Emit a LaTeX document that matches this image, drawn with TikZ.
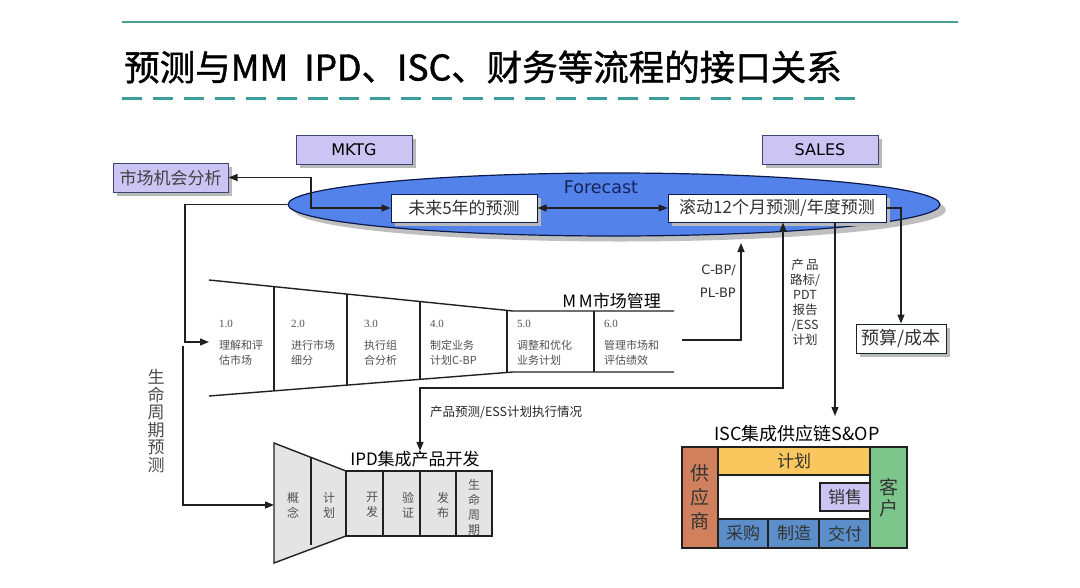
\documentclass[tikz,border=0pt]{standalone}
\usepackage{fontspec}
\setmainfont{DejaVu Sans}
\newfontfamily\cjk{Noto Sans CJK SC}
\newfontfamily\cjkt[FakeBold=1.2]{Noto Sans CJK SC}
\newfontfamily\verd{DejaVu Sans}
\newfontfamily\serf{Liberation Serif}
\usetikzlibrary{shapes.geometric,arrows.meta}
\definecolor{teala}{HTML}{4A9E8E}
\definecolor{tealb}{HTML}{3A9E9E}
\definecolor{lavf}{HTML}{CCC4F2}
\definecolor{lavb}{HTML}{3A4670}
\definecolor{fcblue}{HTML}{5382EA}
\definecolor{navy}{HTML}{0A1A4A}
\definecolor{fctext}{HTML}{14245A}
\definecolor{ipdgray}{HTML}{E4E4E4}
\definecolor{supp}{HTML}{D0805C}
\definecolor{planc}{HTML}{F9C75E}
\definecolor{custc}{HTML}{7CC68C}
\definecolor{opsb}{HTML}{5C8ECA}
\definecolor{txtg}{HTML}{505050}
\definecolor{linec}{HTML}{202020}
\tikzset{
  shad/.style={preaction={fill=gray!55,draw=none,transform canvas={xshift=4pt,yshift=-4pt}}},
  lavbox/.style={shad,draw=lavb,line width=1pt,fill=lavf,minimum height=29pt,inner sep=0pt},
  whitebox/.style={shad,draw=navy,line width=1pt,fill=white,minimum height=28pt,inner sep=0pt,font=\cjk\fontsize{17}{20}\selectfont,text=black!80},
  conn/.style={draw=linec,line width=1.3pt},
  arr/.style={conn,-{Triangle[length=9pt,width=7pt]}},
  darr/.style={conn,{Triangle[length=9pt,width=7pt]}-{Triangle[length=9pt,width=7pt]}},
  fl/.style={draw=linec,line width=1.4pt},
  stepnum/.style={anchor=west,font=\serf\fontsize{11}{13}\selectfont,text=txtg,inner sep=0pt},
  steptxt/.style={anchor=west,align=left,font=\cjk\fontsize{11}{15}\selectfont,text=txtg,inner sep=0pt},
  ipdtxt/.style={align=center,font=\cjk\fontsize{12}{15}\selectfont,text=txtg,inner sep=0pt},
  cell/.style={draw=linec,line width=1.2pt},
  celltxt/.style={font=\cjk\fontsize{17}{21}\selectfont,text=black!80,inner sep=0pt,align=center},
  head/.style={font=\cjk\fontsize{17}{20}\selectfont,text=black,inner sep=0pt}
}
\begin{document}
\begin{tikzpicture}[x=1pt,y=-1pt]
\useasboundingbox (0,0) rectangle (1080,587);
% header
\draw[teala,line width=1.5pt] (122,22) -- (958,22);
\node[anchor=west,font=\cjkt\fontsize{35.5}{40}\selectfont,inner sep=0pt] (title) at (124,67) {预测与MM\ \ IPD、ISC、财务等流程的接口关系};
\draw[tealb,line width=3pt,dash pattern=on 20pt off 11pt] (122,98) -- (865,98);

% top boxes
\node[lavbox,minimum width=116pt,font=\verd\fontsize{16}{18}\selectfont] (mktg) at (354,149.5) {MKTG};
\node[lavbox,minimum width=116pt,font=\verd\fontsize{16}{18}\selectfont] (sales) at (820,149.5) {SALES};
\node[lavbox,minimum width=115pt,font=\cjk\fontsize{17}{20}\selectfont,text=black!75] (mkt) at (170.5,177.5) {市场机会分析};

% forecast ellipse
\node[ellipse,minimum width=652pt,minimum height=63pt,fill=gray!50,inner sep=0pt] (fcsh) at (620,210) {};
\node[ellipse,minimum width=652pt,minimum height=63pt,fill=fcblue,draw=navy,line width=1.2pt,inner sep=0pt] (fc) at (614,204.5) {};
\node[font=\verd\fontsize{17.5}{20}\selectfont,text=fctext,inner sep=0pt] (fct) at (601,187) {Forecast};
\node[whitebox,minimum width=146pt] (f5) at (464,208) {未来5年的预测};
\node[whitebox,minimum width=218pt] (f12) at (777,208) {滚动12个月预测/年度预测};

% connectors around forecast
\draw[darr] (f5.east) -- (f12.west);
\coordinate (j1) at (311,190);
\draw[darr] (mkt.east) -| (j1) |- (f5.west);
\coordinate (lc1) at (185,342);
\coordinate (in1) at (209,342);
\draw[arr] (fc.west) -| (lc1) -- (in1);

% MM funnel
\draw[fl] (209,280) -- (513,311) -- (674,311);
\draw[fl] (209,396) -- (513,372) -- (674,372);
\draw[fl] (274,286.6) -- (274,390.9);
\draw[fl] (347,294.1) -- (347,385.1);
\draw[fl] (420,301.5) -- (420,379.3);
\draw[fl] (507,311) -- (507,372);
\draw[fl] (594,311) -- (594,372);
\node[head,anchor=east] (mmt) at (661,301) {M\,M市场管理};
\node[stepnum] (n1) at (219,324) {1.0};
\node[stepnum] (n2) at (291,324) {2.0};
\node[stepnum] (n3) at (364,324) {3.0};
\node[stepnum] (n4) at (430,324) {4.0};
\node[stepnum] (n5) at (517,324) {5.0};
\node[stepnum] (n6) at (604,324) {6.0};
\node[steptxt] (t1) at (219,352.5) {理解和评\\估市场};
\node[steptxt] (t2) at (291,352.5) {进行市场\\细分};
\node[steptxt] (t3) at (364,352.5) {执行组\\合分析};
\node[steptxt] (t4) at (430,352.5) {制定业务\\计划C-BP};
\node[steptxt] (t5) at (517,352.5) {调整和优化\\业务计划};
\node[steptxt] (t6) at (604,352.5) {管理市场和\\评估绩效};

% C-BP arrow
\coordinate (mmout) at (682,340);
\coordinate (cbpin) at (741,243);
\draw[arr] (mmout) -| (cbpin);
\node[anchor=east,font=\verd\fontsize{13}{15}\selectfont,text=black!80,inner sep=0pt] (cbp1) at (736,270) {C-BP/};
\node[anchor=east,font=\verd\fontsize{13}{15}\selectfont,text=black!80,inner sep=0pt] (cbp2) at (736,293) {PL-BP};

% product roadmap label
\node[align=center,font=\cjk\fontsize{12.5}{15}\selectfont,text=black!80,inner sep=0pt] (prl) at (805,302) {产\,品\\路标/\\PDT\\报告\\/ESS\\计划};

% IPD
\node[head] (ipdt) at (415,459) {IPD集成产品开发};
\coordinate (pp) at (420,388);
\draw[darr] ([xshift=6pt]f12.south) |- (pp) -- (pp |- ipdt.north);
\node[anchor=west,font=\cjk\fontsize{12.5}{15}\selectfont,text=black!85,inner sep=0pt] (pfl) at (430,412) {产品预测/ESS计划执行情况};

\draw[fl,fill=ipdgray] (274,443) -- (346,471) -- (346,536) -- (274,563) -- cycle;
\draw[fl] (311,457.4) -- (311,545);
\draw[fl,fill=ipdgray] (346,471) rectangle (492,536);
\draw[fl] (383,471) -- (383,536);
\draw[fl] (420,471) -- (420,536);
\draw[fl] (456,471) -- (456,536);
\node[ipdtxt] (p1) at (293,505) {概\\念};
\node[ipdtxt] (p2) at (329,505) {计\\划};
\node[ipdtxt] (p3) at (372,505) {开\\发};
\node[ipdtxt] (p4) at (408,505) {验\\证};
\node[ipdtxt] (p5) at (443,505) {发\\布};
\node[ipdtxt] (p6) at (474,507) {生\\命\\周\\期};

% lifecycle forecast
\node[align=center,font=\cjk\fontsize{17}{17.6}\selectfont,text=black!70,inner sep=0pt] (lcf) at (156,421) {生\\命\\周\\期\\预\\测};
\coordinate (lc2) at (183,346);
\coordinate (ipdin) at (274,505);
\draw[arr] (lc2) |- (ipdin);

% budget
\node[shad,draw=black!75!teala,line width=1pt,fill=white,minimum width=90pt,minimum height=29pt,inner sep=0pt,font=\cjk\fontsize{18}{20}\selectfont,text=black!80] (bud) at (901,338.5) {预算/成本};
\draw[arr] (f12.east) -| (bud.north);

% ISC
\node[head,font=\cjk\fontsize{18}{20}\selectfont] (isct) at (797,434) {ISC集成供应链S\&OP};
\coordinate (iscin) at (835,416);
\draw[arr] ([xshift=58pt]f12.south) -- (iscin);
\draw[cell,fill=white] (718,475) rectangle (870,519);
\draw[cell,fill=supp] (682,447) rectangle (718,548);
\draw[cell,fill=planc] (718,447) rectangle (870,475);
\draw[cell,fill=lavf] (820,483) rectangle (870,511);
\draw[cell,fill=opsb] (718,519) rectangle (768,548);
\draw[cell,fill=opsb] (768,519) rectangle (819,548);
\draw[cell,fill=opsb] (819,519) rectangle (870,548);
\draw[cell,fill=custc] (870,447) rectangle (907,548);
\node[celltxt,font=\cjk\fontsize{19}{24}\selectfont] (sup) at (700,497.5) {供\\应\\商};
\node[celltxt] (plan) at (794,461) {计划};
\node[celltxt] (sell) at (845,497) {销售};
\node[celltxt] (buy) at (743,533.5) {采购};
\node[celltxt] (make) at (794,533.5) {制造};
\node[celltxt] (deliv) at (845,533.5) {交付};
\node[celltxt,font=\cjk\fontsize{19}{21}\selectfont] (cust) at (888.5,497.5) {客\\户};
\end{tikzpicture}
\end{document}
